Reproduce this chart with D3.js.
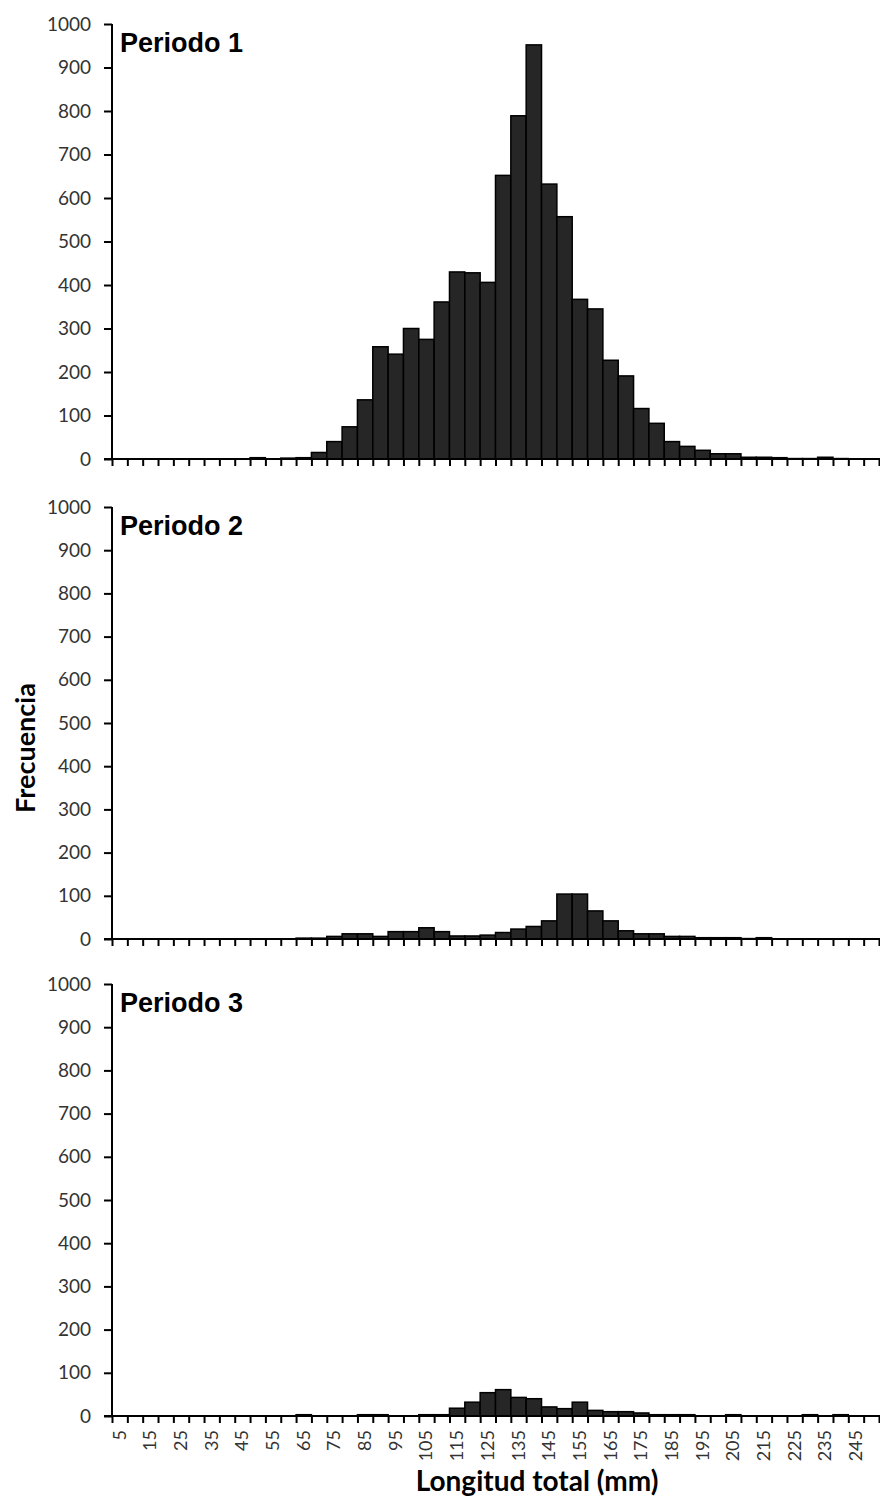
<!DOCTYPE html>
<html>
<head>
<meta charset="utf-8">
<script src="https://cdn.jsdelivr.net/npm/d3@7"></script>
<style>
  html, body { margin: 0; padding: 0; background: #fff; }
  svg { display: block; }
</style>
</head>
<body>
<svg id="chart" width="880" height="1500"></svg>
<script>
// Bin starts (mm), 5-mm classes
const bins = [5,10,15,20,25,30,35,40,45,50,55,60,65,70,75,80,85,90,95,100,105,110,115,120,125,130,135,140,145,150,155,160,165,170,175,180,185,190,195,200,205,210,215,220,225,230,235,240,245,250];
const xTickLabels = [5,15,25,35,45,55,65,75,85,95,105,115,125,135,145,155,165,175,185,195,205,215,225,235,245];
const yTickValues = [0,100,200,300,400,500,600,700,800,900,1000];
const periodNames = ["Periodo 1", "Periodo 2", "Periodo 3"];

const periodo1 = [0,0,0,0,0,0,0,0,0,3,0,2,3,15,40,74,136,258,241,300,275,361,430,428,406,652,789,952,632,557,367,345,227,191,116,82,40,29,20,12,12,4,4,3,1,1,4,1,0,0];
const periodo2 = [0,0,0,0,0,0,0,0,0,0,0,0,2,2,6,12,12,6,17,17,26,17,7,7,9,15,23,29,42,104,104,65,42,19,12,12,6,6,3,3,3,1,3,0,0,0,0,0,0,0];
const periodo3 = [0,0,0,0,0,0,0,0,0,0,0,0,3,0,0,0,3,3,0,0,3,3,18,32,54,61,43,40,21,17,32,13,10,10,7,3,3,3,0,0,3,0,0,0,0,3,0,3,0,0];
const seriesList = [periodo1, periodo2, periodo3];

const svg = d3.select("#chart");
const left = 112, right = 879;
const panels = [{top: 24, bottom: 459}, {top: 507, bottom: 939}, {top: 984, bottom: 1416}];

const x = d3.scaleLinear().domain([2.5, 252.5]).range([left, right]);
const boundaries = bins.map(b => b - 2.5).concat([252.5]);

panels.forEach((p, pi) => {
  const y = d3.scaleLinear().domain([0, 1000]).range([p.bottom, p.top]);
  const g = svg.append("g");
  const data = seriesList[pi];

  // bars
  g.selectAll("rect.bar").data(bins).enter().append("rect")
    .attr("class", "bar")
    .attr("x", d => x(d - 2.5))
    .attr("width", d => x(d + 2.5) - x(d - 2.5))
    .attr("y", (d, i) => y(data[i]))
    .attr("height", (d, i) => y(0) - y(data[i]))
    .attr("fill", "#262626")
    .attr("stroke", "#000")
    .attr("stroke-width", 1.5);

  // y axis
  const yAxis = d3.axisLeft(y).tickValues(yTickValues).tickSize(8).tickPadding(13).tickFormat(d3.format("d"));
  const ya = g.append("g").attr("transform", `translate(${left},0)`).call(yAxis);
  ya.select(".domain").attr("stroke", "#000").attr("stroke-width", 2).attr("d", `M0,${p.top}V${p.bottom}`);
  ya.selectAll(".tick line").attr("stroke", "#000").attr("stroke-width", 2);
  ya.selectAll(".tick text").attr("font-family", "Lato, 'Open Sans', sans-serif").attr("font-size", 19).attr("fill", "#333");

  // x axis
  const xAxis = d3.axisBottom(x).tickValues(boundaries).tickSize(7).tickFormat("");
  const xa = g.append("g").attr("transform", `translate(0,${p.bottom})`).call(xAxis);
  xa.select(".domain").attr("stroke", "#000").attr("stroke-width", 2).attr("d", `M${left - 8},0H${right + 2}`);
  xa.selectAll(".tick line").attr("stroke", "#000").attr("stroke-width", 2);

  // panel title
  g.append("text")
    .attr("x", 120).attr("y", p.top + 28)
    .attr("font-family", "'Liberation Sans', Arial, sans-serif")
    .attr("font-weight", "bold").attr("font-size", 27)
    .attr("fill", "#000")
    .text(periodNames[pi]);

  if (pi === 2) {
    g.selectAll("text.xl").data(xTickLabels).enter().append("text")
      .attr("class", "xl")
      .attr("transform", d => `translate(${x(d) + 6},${p.bottom + 14}) rotate(-90)`)
      .attr("text-anchor", "end")
      .attr("font-family", "Lato, 'Open Sans', sans-serif")
      .attr("font-size", 18).attr("fill", "#333")
      .text(d => d);
  }
});

// axis titles
svg.append("text")
  .attr("x", 537).attr("y", 1491)
  .attr("text-anchor", "middle")
  .attr("font-family", "Lato, 'Open Sans', sans-serif")
  .attr("font-weight", "bold").attr("font-size", 28).attr("fill", "#000")
  .text("Longitud total (mm)");

svg.append("text")
  .attr("transform", "translate(35,748) rotate(-90)")
  .attr("text-anchor", "middle")
  .attr("font-family", "Lato, 'Open Sans', sans-serif")
  .attr("font-weight", "bold").attr("font-size", 27).attr("fill", "#000")
  .text("Frecuencia");
</script>
</body>
</html>
